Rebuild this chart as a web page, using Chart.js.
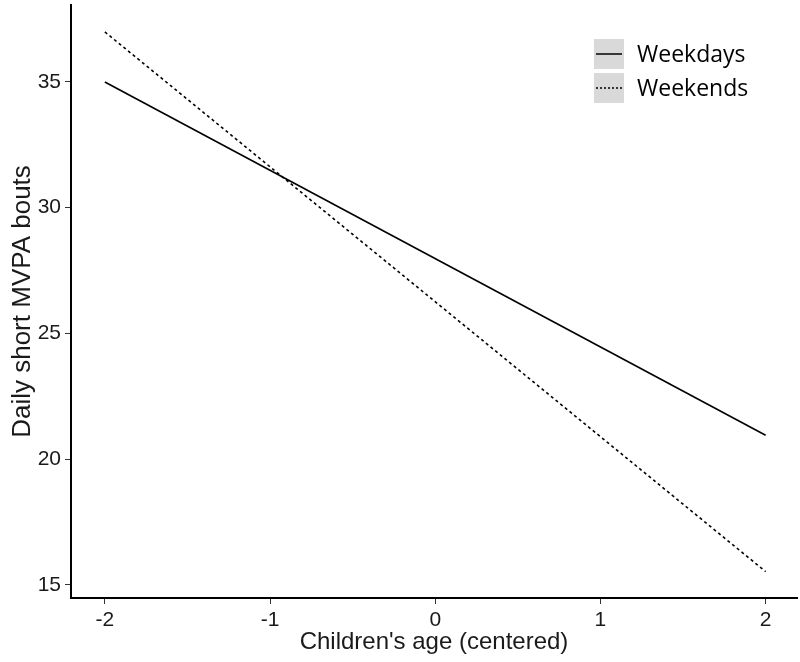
<!DOCTYPE html>
<html lang="en">
<head>
  <meta charset="UTF-8" />
  <title>Daily short MVPA bouts</title>
  <script src="https://cdn.jsdelivr.net/npm/chart.js"></script>
  <style>
    html, body {
      margin: 0;
      padding: 0;
      background: #fff;
    }
    #wrap {
      width: 800px;
      height: 662px;
    }
  </style>
</head>
<body>
  <div id="wrap"><canvas id="chart" width="800" height="662"></canvas></div>

  <script>
    // values
    const ageValues = [-2, 2];
    const weekdays = [35.0, 20.95];
    const weekends = [36.99, 15.53];
    const seriesNames = ["Weekdays", "Weekends"];
    const xTicks = [-2, -1, 0, 1, 2];
    const yTicks = [15, 20, 25, 30, 35];

    // grey-boxed legend like the ggplot key
    const keyLegend = {
      id: "keyLegend",
      afterDraw(chart) {
        const ctx = chart.ctx;
        const items = [
          { name: seriesNames[0], dash: [] },
          { name: seriesNames[1], dash: [2, 2] }
        ];
        ctx.save();
        items.forEach((it, i) => {
          const y = 39 + i * 34;
          ctx.fillStyle = "#d9d9d9";
          ctx.fillRect(594, y, 30, 30);
          ctx.strokeStyle = "#000";
          ctx.lineWidth = 1.5;
          ctx.setLineDash(it.dash);
          ctx.beginPath();
          ctx.moveTo(596, y + 15);
          ctx.lineTo(622, y + 15);
          ctx.stroke();
          ctx.setLineDash([]);
          ctx.fillStyle = "#000";
          ctx.font = "23px 'Open Sans', sans-serif";
          ctx.textBaseline = "middle";
          ctx.fillText(it.name, 637, y + 16);
        });
        ctx.restore();
      }
    };

    const ctx = document.getElementById("chart").getContext("2d");
    new Chart(ctx, {
      type: "scatter",
      data: {
        datasets: [
          {
            label: seriesNames[0],
            data: ageValues.map((x, i) => ({ x, y: weekdays[i] })),
            showLine: true,
            borderColor: "#000",
            borderWidth: 1.6,
            pointRadius: 0
          },
          {
            label: seriesNames[1],
            data: ageValues.map((x, i) => ({ x, y: weekends[i] })),
            showLine: true,
            borderColor: "#000",
            borderWidth: 1.6,
            borderDash: [3, 3],
            pointRadius: 0
          }
        ]
      },
      options: {
        responsive: false,
        animation: false,
        layout: { padding: { top: 5, right: 3, left: 0, bottom: 0 } },
        plugins: {
          legend: { display: false },
          tooltip: { enabled: false }
        },
        scales: {
          x: {
            type: "linear",
            min: -2.205,
            max: 2.19,
            afterBuildTicks: s => { s.ticks = xTicks.map(v => ({ value: v })); },
            afterFit: s => { s.height = 64; s.paddingLeft = 0; s.paddingRight = 0; },
            grid: { drawOnChartArea: false, drawTicks: true, tickLength: 6, color: "#333" },
            border: { display: true, color: "#000", width: 2 },
            ticks: {
              color: "#1a1a1a",
              font: { family: "Liberation Sans, Arial", size: 21 },
              padding: 4
            },
            title: {
              display: true,
              text: "Children's age (centered)",
              color: "#1a1a1a",
              font: { family: "Liberation Sans, Arial", size: 24 },
              padding: { top: 0, bottom: 5 }
            }
          },
          y: {
            min: 14.48,
            max: 38.06,
            afterBuildTicks: s => { s.ticks = yTicks.map(v => ({ value: v })); },
            afterFit: s => { s.width = 71; s.paddingTop = 0; s.paddingBottom = 0; },
            grid: { drawOnChartArea: false, drawTicks: true, tickLength: 6, color: "#333" },
            border: { display: true, color: "#000", width: 2 },
            ticks: {
              color: "#1a1a1a",
              font: { family: "Liberation Sans, Arial", size: 21 },
              padding: 4
            },
            title: {
              display: true,
              text: "Daily short MVPA bouts",
              color: "#1a1a1a",
              font: { family: "Liberation Sans, Arial", size: 26 },
              padding: { top: 7, bottom: 0 }
            }
          }
        }
      },
      plugins: [keyLegend]
    });
  </script>
</body>
</html>
